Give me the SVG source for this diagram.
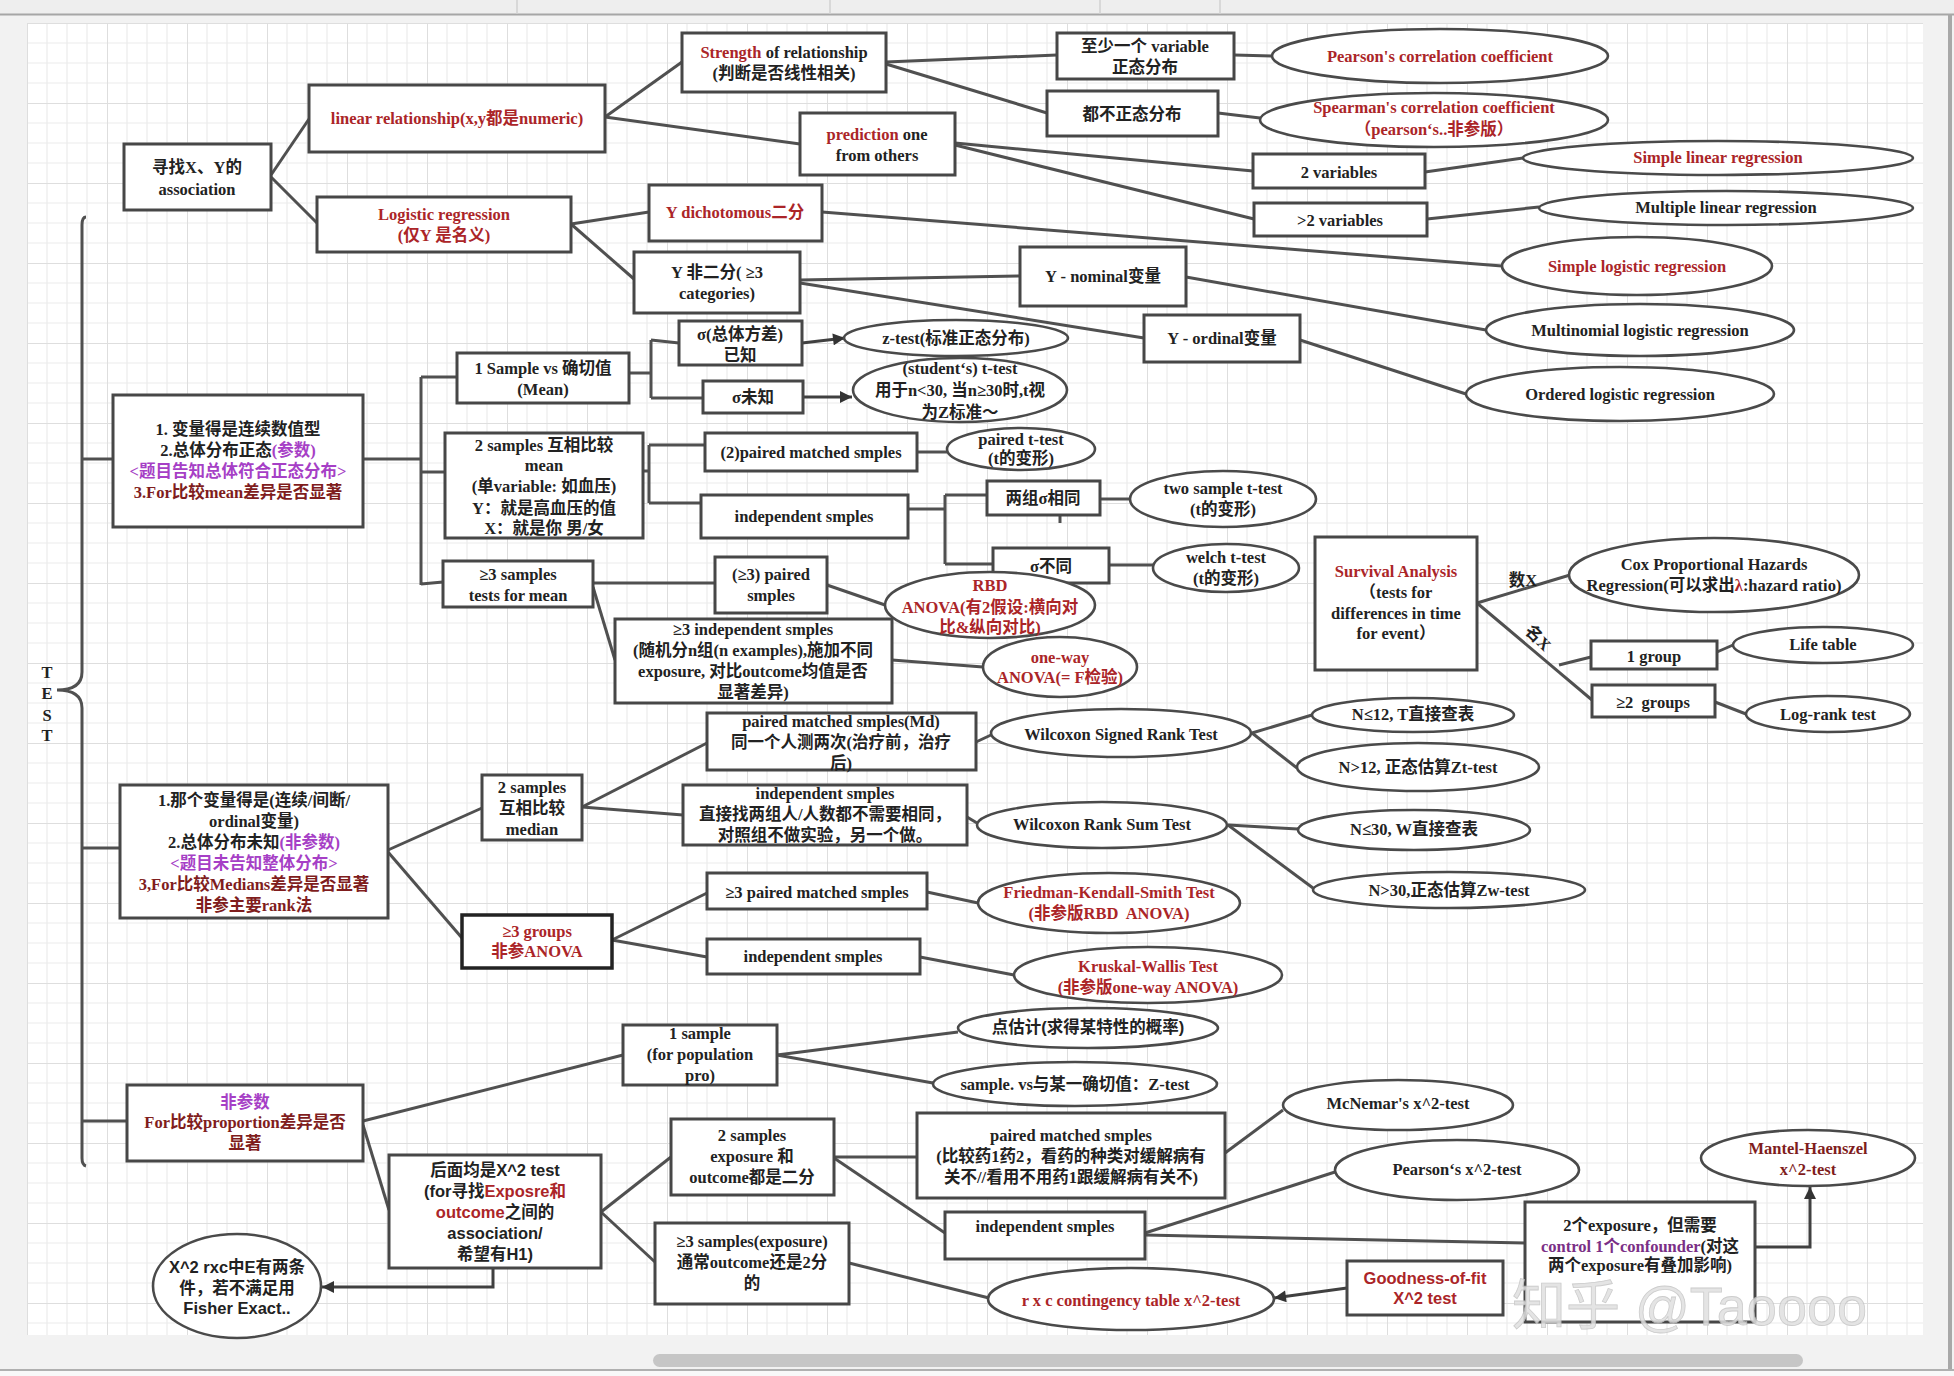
<svg xmlns="http://www.w3.org/2000/svg" width="1954" height="1376" viewBox="0 0 1954 1376">
<defs>
<pattern id="grid" x="27" y="23" width="80" height="80" patternUnits="userSpaceOnUse">
<path d="M20 0V80M40 0V80M60 0V80M0 20H80M0 40H80M0 60H80" stroke="#ebebeb" stroke-width="1.2" fill="none"/>
<path d="M0 0V80M0 0H80" stroke="#dedede" stroke-width="2" fill="none"/>
</pattern>
<marker id="ah" viewBox="0 0 10 10" refX="10" refY="5" markerWidth="16" markerHeight="12" markerUnits="userSpaceOnUse" orient="auto">
<path d="M0 0L10 5L0 10z" fill="#333"/>
</marker>
<style>
.b{fill:#fff;stroke:#474747;stroke-width:3}
.bk{fill:#fff;stroke:#222;stroke-width:3.5}
.e{fill:#fff;stroke:#4a4a4a;stroke-width:2.6}
.c{stroke:#505050;stroke-width:3;fill:none}
.a{stroke:#404040;stroke-width:3;fill:none;marker-end:url(#ah)}
text{font-family:"Liberation Serif","Noto Sans CJK SC",serif;font-weight:700;font-size:16.5px;fill:#222;text-anchor:middle;dominant-baseline:central}
.s{font-family:"Liberation Sans","Noto Sans CJK SC",sans-serif}
.r{fill:#ab2528}
.dr{fill:#7f1d1d}
.p{fill:#a63fc6}
.pp{fill:#7b2f86}
</style>
</defs>
<rect x="0" y="0" width="1954" height="1376" fill="#f2f2f2"/>
<rect x="0" y="0" width="1954" height="14" fill="#eeeeee"/>
<line x1="0" y1="14.5" x2="1954" y2="14.5" stroke="#a6a6a6" stroke-width="2"/>
<g stroke="#d0d0d0" stroke-width="1.5"><line x1="517" y1="0" x2="517" y2="14"/><line x1="830" y1="0" x2="830" y2="14"/><line x1="1100" y1="0" x2="1100" y2="14"/><line x1="1220" y1="0" x2="1220" y2="14"/></g>
<rect x="27" y="23" width="1896" height="1312" fill="#fff"/>
<rect x="27" y="23" width="1896" height="1312" fill="url(#grid)"/>
<line x1="1950" y1="14" x2="1950" y2="1370" stroke="#a8a8a8" stroke-width="4"/>
<rect x="0" y="1371" width="1954" height="5" fill="#f8f8f8"/>
<line x1="0" y1="1370" x2="1954" y2="1370" stroke="#b0b0b0" stroke-width="2"/>
<rect x="653" y="1354" width="1150" height="13" rx="6.5" fill="#c6c6c6"/>

<g id="connectors">
<path class="c" d="M86 217Q82 217 82 225L82 672C82 686 70 690 57 690C70 690 82 694 82 708L82 1158Q82 1165 86 1166"/>
<line class="c" x1="82" y1="459" x2="113" y2="459"/>
<line class="c" x1="82" y1="848" x2="120" y2="848"/>
<line class="c" x1="82" y1="1121" x2="127" y2="1121"/>
<line class="c" x1="271" y1="175" x2="309" y2="119"/>
<line class="c" x1="271" y1="177" x2="317" y2="223"/>
<line class="c" x1="605" y1="117" x2="682" y2="62"/>
<line class="c" x1="605" y1="117" x2="800" y2="144"/>
<line class="c" x1="886" y1="62" x2="1057" y2="55"/>
<line class="c" x1="886" y1="64" x2="1047" y2="113"/>
<line class="c" x1="1234" y1="55" x2="1273" y2="56"/>
<line class="c" x1="1218" y1="113" x2="1260" y2="118"/>
<line class="c" x1="955" y1="143" x2="1253" y2="171"/>
<line class="c" x1="955" y1="145" x2="1254" y2="219"/>
<line class="c" x1="1425" y1="172" x2="1523" y2="158"/>
<line class="c" x1="1427" y1="219" x2="1539" y2="207"/>
<line class="c" x1="571" y1="224" x2="649" y2="212"/>
<line class="c" x1="571" y1="224" x2="634" y2="279"/>
<line class="c" x1="822" y1="212" x2="1502" y2="266"/>
<line class="c" x1="800" y1="280" x2="1020" y2="276"/>
<line class="c" x1="800" y1="283" x2="1144" y2="338"/>
<line class="c" x1="1186" y1="277" x2="1486" y2="330"/>
<line class="c" x1="1300" y1="340" x2="1466" y2="394"/>
<path class="c" d="M363 459H421M421 377V585M421 377H457M421 472H445M421 584L443 582"/>
<path class="c" d="M629 373H651M651 340V398M651 340L679 343M651 398H703"/>
<line class="a" x1="802" y1="343" x2="845" y2="338"/>
<line class="a" x1="803" y1="397" x2="852" y2="397"/>
<path class="c" d="M615 471H649M649 445V503M649 445H705M649 503H701"/>
<line class="c" x1="917" y1="452" x2="947" y2="452"/>
<path class="c" d="M908 509H945M945 495V564M945 495H987M945 564H993"/>
<line class="c" x1="1060" y1="515" x2="1060" y2="523"/>
<line class="c" x1="1100" y1="499" x2="1130" y2="499"/>
<line class="c" x1="1109" y1="565" x2="1153" y2="565"/>
<line class="c" x1="593" y1="583" x2="715" y2="583"/>
<line class="c" x1="593" y1="587" x2="615" y2="660"/>
<line class="c" x1="827" y1="585" x2="885" y2="605"/>
<line class="c" x1="892" y1="660" x2="983" y2="667"/>
<line class="c" x1="1477" y1="603" x2="1570" y2="575"/>
<line class="c" x1="1477" y1="603" x2="1592" y2="700"/>
<line class="c" x1="1559" y1="665" x2="1591" y2="657"/>
<line class="c" x1="1717" y1="652" x2="1733" y2="645"/>
<line class="c" x1="1715" y1="702" x2="1746" y2="714"/>
<line class="c" x1="388" y1="850" x2="482" y2="808"/>
<line class="c" x1="388" y1="852" x2="462" y2="938"/>
<line class="c" x1="582" y1="807" x2="707" y2="743"/>
<line class="c" x1="582" y1="807" x2="683" y2="815"/>
<line class="c" x1="976" y1="742" x2="991" y2="735"/>
<line class="c" x1="967" y1="817" x2="977" y2="823"/>
<line class="c" x1="1252" y1="733" x2="1312" y2="715"/>
<line class="c" x1="1252" y1="733" x2="1297" y2="768"/>
<line class="c" x1="1228" y1="825" x2="1298" y2="829"/>
<line class="c" x1="1228" y1="825" x2="1313" y2="888"/>
<line class="c" x1="612" y1="940" x2="707" y2="893"/>
<line class="c" x1="612" y1="940" x2="707" y2="957"/>
<line class="c" x1="927" y1="892" x2="978" y2="903"/>
<line class="c" x1="920" y1="957" x2="1014" y2="975"/>
<line class="c" x1="363" y1="1121" x2="623" y2="1055"/>
<line class="c" x1="363" y1="1125" x2="389" y2="1210"/>
<line class="c" x1="777" y1="1055" x2="958" y2="1032"/>
<line class="c" x1="777" y1="1055" x2="933" y2="1083"/>
<path class="a" d="M493 1268V1287H322"/>
<line class="c" x1="601" y1="1212" x2="671" y2="1157"/>
<line class="c" x1="601" y1="1212" x2="655" y2="1262"/>
<line class="c" x1="834" y1="1157" x2="917" y2="1157"/>
<line class="c" x1="834" y1="1158" x2="945" y2="1233"/>
<line class="c" x1="1225" y1="1153" x2="1283" y2="1110"/>
<line class="c" x1="1145" y1="1233" x2="1335" y2="1172"/>
<line class="c" x1="1145" y1="1235" x2="1525" y2="1243"/>
<path class="a" d="M1755 1247H1810V1187"/>
<line class="a" x1="1347" y1="1288" x2="1274" y2="1298"/>
<line class="c" x1="849" y1="1263" x2="989" y2="1298"/>
</g>

<g id="test-label"><text x="47" y="672">T</text><text x="47" y="693">E</text><text x="47" y="715">S</text><text x="47" y="735">T</text></g>

<g id="n-assoc"><rect class="b" x="124" y="144" width="147" height="66"/><text x="197" y="167">寻找X、Y的</text><text x="197" y="189">association</text></g>
<g id="n-linear"><rect class="b" x="309" y="85" width="296" height="67"/><text class="r" x="457" y="118">linear relationship(x,y都是numeric)</text></g>
<g id="n-logistic"><rect class="b" x="317" y="197" width="254" height="55"/><text class="r" x="444" y="214">Logistic regression</text><text class="r" x="444" y="235">(仅Y 是名义)</text></g>
<g id="n-strength"><rect class="b" x="682" y="33" width="204" height="59"/><text x="784" y="52"><tspan class="r">Strength</tspan> of relationship</text><text x="784" y="73">(判断是否线性相关)</text></g>
<g id="n-prediction"><rect class="b" x="800" y="113" width="155" height="62"/><text x="877" y="134"><tspan class="r">prediction</tspan> one</text><text x="877" y="155">from others</text></g>
<g id="n-ydich"><rect class="b" x="649" y="185" width="173" height="56"/><text class="r" x="735" y="212">Y dichotomous二分</text></g>
<g id="n-ynon"><rect class="b" x="634" y="252" width="166" height="61"/><text x="717" y="272">Y 非二分( ≥3</text><text x="717" y="293">categories)</text></g>
<g id="n-atleast"><rect class="b" x="1057" y="33" width="177" height="46"/><text x="1145" y="46">至少一个 variable</text><text x="1145" y="67">正态分布</text></g>
<g id="n-bothnot"><rect class="b" x="1047" y="91" width="171" height="45"/><text x="1132" y="114">都不正态分布</text></g>
<g id="n-var2"><rect class="b" x="1253" y="154" width="172" height="34"/><text x="1339" y="172">2 variables</text></g>
<g id="n-var2p"><rect class="b" x="1254" y="203" width="173" height="33"/><text x="1340" y="220">&gt;2 variables</text></g>
<g id="n-ynom"><rect class="b" x="1020" y="247" width="166" height="59"/><text x="1103" y="276">Y - nominal变量</text></g>
<g id="n-yord"><rect class="b" x="1144" y="315" width="156" height="47"/><text x="1222" y="338">Y - ordinal变量</text></g>
<g id="n-pearson"><ellipse class="e" cx="1440" cy="56" rx="168" ry="27"/><text class="r" x="1440" y="56">Pearson's correlation coefficient</text></g>
<g id="n-spearman"><ellipse class="e" cx="1434" cy="120" rx="174" ry="27"/><text class="r" x="1434" y="107">Spearman's correlation coefficient</text><text class="r" x="1434" y="129">（pearson‘s..非参版）</text></g>
<g id="n-slr"><ellipse class="e" cx="1718" cy="158" rx="195" ry="17"/><text class="r" x="1718" y="157">Simple linear regression</text></g>
<g id="n-mlr"><ellipse class="e" cx="1726" cy="208" rx="187" ry="17"/><text x="1726" y="207">Multiple linear regression</text></g>
<g id="n-slog"><ellipse class="e" cx="1637" cy="266" rx="135" ry="29"/><text class="r" x="1637" y="266">Simple logistic regression</text></g>
<g id="n-mnl"><ellipse class="e" cx="1640" cy="330" rx="154" ry="26"/><text x="1640" y="330">Multinomial logistic regression</text></g>
<g id="n-ordl"><ellipse class="e" cx="1620" cy="394" rx="154" ry="27"/><text x="1620" y="394">Ordered logistic regression</text></g>

<g id="n-param"><rect class="b" x="113" y="395" width="250" height="132"/><text x="238" y="429">1. 变量得是连续数值型</text><text x="238" y="450">2.总体分布正态<tspan class="p">(参数)</tspan></text><text class="p" x="238" y="471">&lt;题目告知总体符合正态分布&gt;</text><text class="dr" x="238" y="492">3.For比较mean差异是否显著</text></g>
<g id="n-onesample"><rect class="b" x="457" y="353" width="172" height="50"/><text x="543" y="368">1 Sample vs 确切值</text><text x="543" y="389">(Mean)</text></g>
<g id="n-sigknown"><rect class="b" x="679" y="321" width="123" height="44"/><text x="740" y="334">σ(总体方差)</text><text x="740" y="355">已知</text></g>
<g id="n-sigunk"><rect class="b" x="703" y="381" width="100" height="32"/><text x="753" y="397">σ未知</text></g>
<g id="n-ztest"><ellipse class="e" cx="956" cy="338" rx="112" ry="18"/><text x="956" y="338">z-test(标准正态分布)</text></g>
<g id="n-ttest"><ellipse class="e" cx="960" cy="390" rx="107" ry="32"/><text x="960" y="368">(student‘s) t-test</text><text x="960" y="390">用于n&lt;30, 当n≥30时,t视</text><text x="960" y="412">为Z标准～</text></g>
<g id="n-twosamp"><rect class="b" x="445" y="433" width="198" height="105"/><text x="544" y="445">2 samples 互相比较</text><text x="544" y="465">mean</text><text x="544" y="486">(单variable: 如血压)</text><text x="544" y="508">Y：就是高血压的值</text><text x="544" y="528">X：就是你 男/女</text></g>
<g id="n-paired2"><rect class="b" x="705" y="433" width="212" height="38"/><text x="811" y="452">(2)paired matched smples</text></g>
<g id="n-pairedt"><ellipse class="e" cx="1021" cy="449" rx="74" ry="21"/><text x="1021" y="439">paired t-test</text><text x="1021" y="458">(t的变形)</text></g>
<g id="n-indep2"><rect class="b" x="701" y="495" width="207" height="43"/><text x="804" y="516">independent smples</text></g>
<g id="n-samesig"><rect class="b" x="987" y="481" width="113" height="34"/><text x="1043" y="498">两组σ相同</text></g>
<g id="n-diffsig"><rect class="b" x="993" y="548" width="116" height="35"/><text x="1051" y="566">σ不同</text></g>
<g id="n-twot"><ellipse class="e" cx="1223" cy="499" rx="93" ry="28"/><text x="1223" y="488">two sample t-test</text><text x="1223" y="509">(t的变形)</text></g>
<g id="n-welch"><ellipse class="e" cx="1226" cy="568" rx="73" ry="24"/><text x="1226" y="557">welch t-test</text><text x="1226" y="578">(t的变形)</text></g>
<g id="n-ge3"><rect class="b" x="443" y="561" width="150" height="46"/><text x="518" y="574">≥3 samples</text><text x="518" y="595">tests for mean</text></g>
<g id="n-ge3paired"><rect class="b" x="715" y="557" width="112" height="56"/><text x="771" y="574">(≥3) paired</text><text x="771" y="595">smples</text></g>
<g id="n-rbd"><ellipse class="e" cx="990" cy="605" rx="105" ry="33"/><text class="r" x="990" y="585">RBD</text><text class="r" x="990" y="607">ANOVA(有2假设:横向对</text><text class="r" x="990" y="627">比&amp;纵向对比)</text></g>
<g id="n-ge3indep"><rect class="b" x="615" y="619" width="277" height="84"/><text x="753" y="629">≥3 independent smples</text><text x="753" y="650">(随机分n组(n examples),施加不同</text><text x="753" y="671">exposure, 对比outcome均值是否</text><text x="753" y="692">显著差异)</text></g>
<g id="n-oneway"><ellipse class="e" cx="1060" cy="667" rx="77" ry="30"/><text class="r" x="1060" y="657">one-way</text><text class="r" x="1060" y="677">ANOVA(= F检验)</text></g>

<g id="n-survival"><rect class="b" x="1315" y="537" width="162" height="133"/><text class="r" x="1396" y="571">Survival Analysis</text><text x="1396" y="592">（tests for</text><text x="1396" y="613">differences in time</text><text x="1396" y="633">for event）</text></g>
<g id="lbl-x"><text x="1523" y="580">数X</text><text x="1538" y="638" transform="rotate(45 1538 638)">名X</text></g>
<g id="n-cox"><ellipse class="e" cx="1714" cy="575" rx="145" ry="37"/><text x="1714" y="564">Cox Proportional Hazards</text><text x="1714" y="585">Regression(可以求出<tspan class="r">λ</tspan>:hazard ratio)</text></g>
<g id="n-group1"><rect class="b" x="1591" y="641" width="126" height="28"/><text x="1654" y="656">1 group</text></g>
<g id="n-group2"><rect class="b" x="1592" y="685" width="123" height="32"/><text x="1653" y="702" xml:space="preserve">≥2  groups</text></g>
<g id="n-life"><ellipse class="e" cx="1823" cy="645" rx="90" ry="18"/><text x="1823" y="644">Life table</text></g>
<g id="n-logrank"><ellipse class="e" cx="1828" cy="714" rx="82" ry="18"/><text x="1828" y="714">Log-rank test</text></g>

<g id="n-nonparam"><rect class="b" x="120" y="785" width="268" height="133"/><text x="254" y="800">1.那个变量得是(连续/间断/</text><text x="254" y="821">ordinal变量)</text><text x="254" y="842">2.总体分布未知<tspan class="p">(非参数)</tspan></text><text class="p" x="254" y="863">&lt;题目未告知整体分布&gt;</text><text class="dr" x="254" y="884">3,For比较Medians差异是否显著</text><text class="dr" x="254" y="905">非参主要rank法</text></g>
<g id="n-twomed"><rect class="b" x="482" y="775" width="100" height="65"/><text x="532" y="787">2 samples</text><text x="532" y="808">互相比较</text><text x="532" y="829">median</text></g>
<g id="n-pairedmd"><rect class="b" x="707" y="713" width="269" height="57"/><text x="841" y="721">paired matched smples(Md)</text><text x="841" y="742">同一个人测两次(治疗前，治疗</text><text x="841" y="763">后)</text></g>
<g id="n-indepnp"><rect class="b" x="683" y="785" width="284" height="60"/><text x="825" y="793">independent smples</text><text x="825" y="814">直接找两组人/人数都不需要相同，</text><text x="825" y="835">对照组不做实验，另一个做。</text></g>
<g id="n-wsr"><ellipse class="e" cx="1121" cy="733" rx="130" ry="24"/><text x="1121" y="734">Wilcoxon Signed Rank Test</text></g>
<g id="n-wrs"><ellipse class="e" cx="1102" cy="825" rx="125" ry="23"/><text x="1102" y="824">Wilcoxon Rank Sum Test</text></g>
<g id="n-n12a"><ellipse class="e" cx="1413" cy="715" rx="101" ry="17"/><text x="1413" y="714">N≤12, T直接查表</text></g>
<g id="n-n12b"><ellipse class="e" cx="1418" cy="767" rx="121" ry="24"/><text x="1418" y="767">N&gt;12, 正态估算Zt-test</text></g>
<g id="n-n30a"><ellipse class="e" cx="1414" cy="830" rx="116" ry="20"/><text x="1414" y="829">N≤30, W直接查表</text></g>
<g id="n-n30b"><ellipse class="e" cx="1449" cy="890" rx="136" ry="18"/><text x="1449" y="890">N&gt;30,正态估算Zw-test</text></g>
<g id="n-ge3groups"><rect class="bk" x="462" y="915" width="150" height="53"/><text class="r" x="537" y="931">≥3 groups</text><text class="r" x="537" y="951">非参ANOVA</text></g>
<g id="n-ge3pairednp"><rect class="b" x="707" y="873" width="220" height="36"/><text x="817" y="892">≥3 paired matched smples</text></g>
<g id="n-indepg"><rect class="b" x="707" y="939" width="213" height="35"/><text x="813" y="956">independent smples</text></g>
<g id="n-friedman"><ellipse class="e" cx="1109" cy="903" rx="131" ry="30"/><text class="r" x="1109" y="892">Friedman-Kendall-Smith Test</text><text class="r" x="1109" y="913" xml:space="preserve">(非参版RBD  ANOVA)</text></g>
<g id="n-kruskal"><ellipse class="e" cx="1148" cy="975" rx="134" ry="28"/><text class="r" x="1148" y="966">Kruskal-Wallis Test</text><text class="r" x="1148" y="987">(非参版one-way ANOVA)</text></g>

<g id="n-prop"><rect class="b" x="127" y="1085" width="236" height="76"/><text class="p" x="245" y="1102">非参数</text><text class="dr" x="245" y="1122">For比较proportion差异是否</text><text class="dr" x="245" y="1143">显著</text></g>
<g id="n-sample1"><rect class="b" x="623" y="1025" width="154" height="60"/><text x="700" y="1033">1 sample</text><text x="700" y="1054">(for population</text><text x="700" y="1075">pro)</text></g>
<g id="n-point"><ellipse class="e" cx="1088" cy="1028" rx="130" ry="20"/><text class="s" x="1088" y="1027">点估计(求得某特性的概率)</text></g>
<g id="n-samplevs"><ellipse class="e" cx="1075" cy="1084" rx="142" ry="22"/><text x="1075" y="1084">sample. vs与某一确切值：Z-test</text></g>
<g id="n-chi"><rect class="b" x="389" y="1155" width="212" height="113"/><text class="s" x="495" y="1170">后面均是X^2 test</text><text class="s" x="495" y="1191">(for寻找<tspan class="r">Exposre和</tspan></text><text class="s" x="495" y="1212"><tspan class="r">outcome</tspan>之间的</text><text class="s" x="495" y="1233">association/</text><text class="s" x="495" y="1254">希望有H1)</text></g>
<g id="n-fisher"><ellipse class="e" cx="237" cy="1286" rx="84" ry="52"/><text class="s" x="237" y="1267">X^2 rxc中E有两条</text><text class="s" x="237" y="1288">件，若不满足用</text><text class="s" x="237" y="1308">Fisher Exact..</text></g>
<g id="n-twoexp"><rect class="b" x="671" y="1119" width="163" height="76"/><text x="752" y="1135">2 samples</text><text x="752" y="1156">exposure 和</text><text x="752" y="1177">outcome都是二分</text></g>
<g id="n-ge3exp"><rect class="b" x="655" y="1223" width="194" height="81"/><text x="752" y="1241">≥3 samples(exposure)</text><text x="752" y="1262">通常outcome还是2分</text><text x="752" y="1283">的</text></g>
<g id="n-pairedchi"><rect class="b" x="917" y="1113" width="308" height="85"/><text x="1071" y="1135">paired matched smples</text><text x="1071" y="1156">(比较药1药2，看药的种类对缓解病有</text><text x="1071" y="1177">关不//看用不用药1跟缓解病有关不)</text></g>
<g id="n-indepchi"><rect class="b" x="945" y="1212" width="200" height="47"/><text x="1045" y="1226">independent smples</text></g>
<g id="n-mcnemar"><ellipse class="e" cx="1398" cy="1105" rx="115" ry="25"/><text x="1398" y="1103">McNemar's x^2-test</text></g>
<g id="n-pearsonchi"><ellipse class="e" cx="1457" cy="1170" rx="122" ry="30"/><text x="1457" y="1169">Pearson‘s x^2-test</text></g>
<g id="n-mh"><ellipse class="e" cx="1808" cy="1158" rx="107" ry="28"/><text class="dr" x="1808" y="1148">Mantel-Haenszel</text><text class="dr" x="1808" y="1169">x^2-test</text></g>
<g id="n-conf"><rect class="b" x="1525" y="1202" width="230" height="120"/><text x="1640" y="1225">2个exposure，但需要</text><text x="1640" y="1246"><tspan class="pp">control 1个confounder</tspan>(对这</text><text x="1640" y="1265">两个exposure有叠加影响)</text></g>
<g id="n-goodness"><rect class="b" x="1347" y="1261" width="156" height="54"/><text class="s r" x="1425" y="1278">Goodness-of-fit</text><text class="s r" x="1425" y="1298">X^2 test</text></g>
<g id="n-rxc"><ellipse class="e" cx="1131" cy="1299" rx="143" ry="31"/><text class="r" x="1131" y="1300">r x c contingency table x^2-test</text></g>

<g id="watermark"><text x="1512" y="1306" style="text-anchor:start;font-family:'Liberation Sans','Noto Sans CJK SC',sans-serif;font-weight:400;font-size:54px;fill:#e0e0e0;stroke:#c4c4c4;stroke-width:0.8;opacity:0.85">知乎 @Taoooo</text></g>
</svg>
